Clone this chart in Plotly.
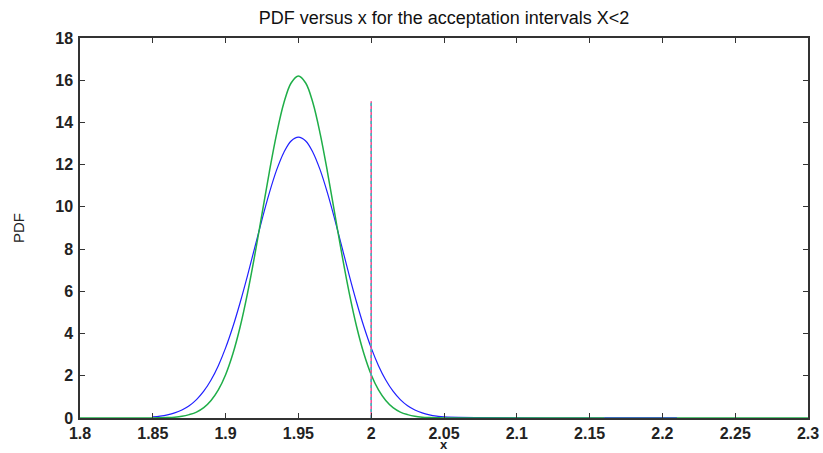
import plotly.graph_objects as go

# blue PDF
blue_x = [1.85, 1.855, 1.86, 1.865, 1.87, 1.875, 1.88, 1.885, 1.89, 1.895, 1.90, 1.905, 1.91, 1.915,
          1.92, 1.925, 1.93, 1.935, 1.94, 1.945, 1.95, 1.955, 1.96, 1.965, 1.97, 1.975, 1.98, 1.985,
          1.99, 1.995, 2.00, 2.005, 2.01, 2.015, 2.02, 2.025, 2.03, 2.035, 2.04, 2.045, 2.05, 2.21]
blue_y = [0.05, 0.09, 0.15, 0.24, 0.38, 0.58, 0.87, 1.27, 1.80, 2.48, 3.32, 4.32, 5.47, 6.73,
          8.07, 9.40, 10.65, 11.74, 12.58, 13.12, 13.30, 13.12, 12.58, 11.74, 10.65, 9.40, 8.07, 6.73,
          5.47, 4.32, 3.32, 2.48, 1.80, 1.27, 0.87, 0.58, 0.38, 0.24, 0.15, 0.09, 0.05, 0.0]

# green PDF
green_x = [1.80, 1.85, 1.855, 1.86, 1.865, 1.87, 1.875, 1.88, 1.885, 1.89, 1.895, 1.90, 1.905, 1.91, 1.915,
           1.92, 1.925, 1.93, 1.935, 1.94, 1.945, 1.95, 1.955, 1.96, 1.965, 1.97, 1.975, 1.98, 1.985,
           1.99, 1.995, 2.00, 2.005, 2.01, 2.015, 2.02, 2.025, 2.03, 2.035, 2.04, 2.045, 2.05, 2.16]
green_y = [0.0, 0.0, 0.01, 0.02, 0.04, 0.08, 0.16, 0.28, 0.49, 0.83, 1.33, 2.05, 3.04, 4.32, 5.89,
           7.70, 9.67, 11.64, 13.45, 14.92, 15.87, 16.20, 15.87, 14.92, 13.45, 11.64, 9.67, 7.70, 5.89,
           4.32, 3.04, 2.05, 1.33, 0.83, 0.49, 0.28, 0.16, 0.08, 0.04, 0.02, 0.01, 0.0, 0.0]
green_tail_x = [2.16, 2.30]
green_tail_y = [0.0, 0.0]

# acceptance limit
limit_x = [2.0, 2.0]
limit_y = [0.0, 15.0]

x_ticks = [1.8, 1.85, 1.9, 1.95, 2.0, 2.05, 2.1, 2.15, 2.2, 2.25, 2.3]
x_tick_text = ["1.8", "1.85", "1.9", "1.95", "2", "2.05", "2.1", "2.15", "2.2", "2.25", "2.3"]
y_ticks = [0, 2, 4, 6, 8, 10, 12, 14, 16, 18]

GREEN = "#1fae48"
BLUE = "#2020ff"
FAM = "Liberation Sans, Arial, sans-serif"

fig = go.Figure()
fig.add_trace(go.Scatter(x=green_tail_x, y=green_tail_y, mode="lines",
                         line=dict(color=GREEN, width=1.5), showlegend=False))
fig.add_trace(go.Scatter(x=blue_x, y=blue_y, mode="lines", line_shape="spline",
                         line=dict(color=BLUE, width=1.2), showlegend=False))
fig.add_trace(go.Scatter(x=green_x, y=green_y, mode="lines", line_shape="spline",
                         line=dict(color=GREEN, width=1.5), showlegend=False))
fig.add_trace(go.Scatter(x=limit_x, y=limit_y, mode="lines",
                         line=dict(color="#f04890", width=1.5), showlegend=False))
fig.add_trace(go.Scatter(x=limit_x, y=limit_y, mode="lines",
                         line=dict(color="#30c0c0", width=1.5, dash="dot"), showlegend=False))

tickfont = dict(family=FAM, size=16, color="#222222", weight="bold")
labfont = dict(family=FAM, size=15, color="#222222")

fig.update_layout(
    width=823, height=453,
    margin=dict(l=80, r=15, t=38, b=35, autoexpand=False),
    paper_bgcolor="white", plot_bgcolor="white",
    title=dict(text="PDF versus x for the acceptation intervals X<2", x=0.5, xanchor="center",
               xref="paper", yref="container", y=1 - 18 / 453, yanchor="middle",
               font=dict(family=FAM, size=18, color="#111111")),
    xaxis=dict(range=[1.8, 2.3], tickvals=x_ticks, ticktext=x_tick_text, ticks="inside", ticklen=5,
               tickcolor="#333333", showline=True, linecolor="#333333", linewidth=1.5, mirror="ticks",
               showgrid=False, zeroline=False, tickfont=tickfont, automargin=False, ticklabelstandoff=0),
    yaxis=dict(range=[0, 18], tickvals=y_ticks, ticks="inside", ticklen=5,
               tickcolor="#333333", showline=True, linecolor="#333333", linewidth=1.5, mirror="ticks",
               showgrid=False, zeroline=False, tickfont=tickfont, automargin=False, ticklabelstandoff=2),
    annotations=[
        dict(text="x", xref="paper", yref="paper", x=0.5, y=-35 / 380, yanchor="bottom",
             showarrow=False, borderpad=0, font=dict(family=FAM, size=13, color="#222222", weight="bold")),
        dict(text="PDF", xref="paper", yref="paper", x=-62 / 728, y=0.5, xanchor="center",
             yanchor="middle", textangle=-90, showarrow=False, font=labfont),
    ],
)

fig.write_html("out.html", post_script="document.body.style.margin='0';",
               config={"displayModeBar": False})
